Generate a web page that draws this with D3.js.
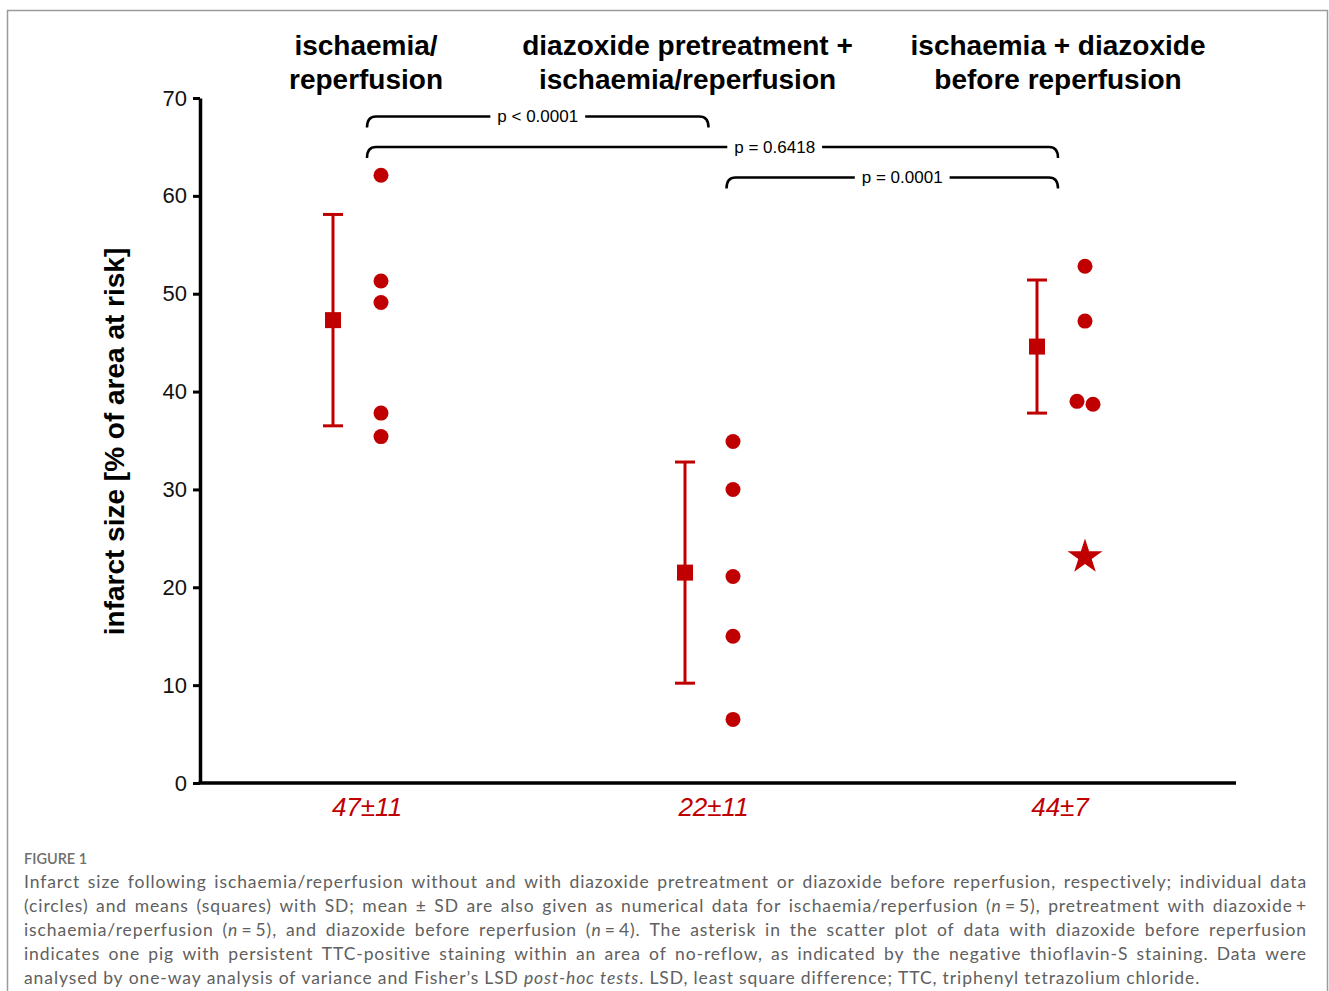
<!DOCTYPE html>
<html>
<head>
<meta charset="utf-8">
<script src="https://cdn.jsdelivr.net/npm/d3@7/dist/d3.min.js"></script>
<style>
  body { margin: 0; background: #fff; }
  svg { display: block; }
</style>
</head>
<body>
<svg width="1329" height="991"></svg>
<script>
// groups and their header text
var groups = ["ir", "dzPre", "dzBefore"];
var headerLines = [
  ["ischaemia/", "reperfusion"],
  ["diazoxide pretreatment +", "ischaemia/reperfusion"],
  ["ischaemia + diazoxide", "before reperfusion"]
];

// values (% of area at risk)
var means = [47.3, 21.5, 44.6];
var sds = [10.8, 11.3, 6.8];
var individual = [
  [62.1, 51.3, 49.1, 37.8, 35.4],
  [34.9, 30.0, 21.1, 15.0, 6.5],
  [52.8, 47.2, 39.0, 38.7]
];
var noReflow = [[], [], [23.1]]; // the star (excluded from mean)
var summaryLabels = ["47\u00b111", "22\u00b111", "44\u00b17"];
var yTicks = [0, 10, 20, 30, 40, 50, 60, 70];

// pairwise comparisons
var pairs = [[0, 1], [0, 2], [1, 2]];
var pValues = ["p < 0.0001", "p = 0.6418", "p = 0.0001"];

// "_" marks italics, \u2009 is a thin space that is not stretched
var caption = [
  "Infarct size following ischaemia/reperfusion without and with diazoxide pretreatment or diazoxide before reperfusion, respectively; individual data",
  "(circles) and means (squares) with SD; mean \u00b1 SD are also given as numerical data for ischaemia/reperfusion (_n_\u2009=\u20095), pretreatment with diazoxide\u2009+",
  "ischaemia/reperfusion (_n_\u2009=\u20095), and diazoxide before reperfusion (_n_\u2009=\u20094). The asterisk in the scatter plot of data with diazoxide before reperfusion",
  "indicates one pig with persistent TTC-positive staining within an area of no-reflow, as indicated by the negative thioflavin-S staining. Data were",
  "analysed by one-way analysis of variance and Fisher\u2019s LSD _post-hoc tests_. LSD, least square difference; TTC, triphenyl tetrazolium chloride."
];

var red = "#c00000";
var font = "Arial, 'Liberation Sans', sans-serif";

var svg = d3.select("svg");

// outer frame
svg.append("rect")
  .attr("x", 7.5).attr("y", 10.5)
  .attr("width", 1320).attr("height", 1000)
  .attr("fill", "none").attr("stroke", "#9b9b9b").attr("stroke-width", 1.5);

var y = d3.scaleLinear().domain([0, 70]).range([783, 98]);
var xMark = d3.scalePoint().domain(groups).range([358, 1062]); // marks
var xLab = d3.scalePoint().domain(groups).range([367, 1060]);  // labels

// y axis
var yAxis = svg.append("g")
  .attr("transform", "translate(200,0)")
  .call(d3.axisLeft(y).tickValues(yTicks).tickSize(7).tickSizeOuter(0).tickPadding(6));
yAxis.select(".domain").attr("stroke", "#000").attr("stroke-width", 3.5);
yAxis.selectAll(".tick line").attr("stroke", "#000").attr("stroke-width", 3);
yAxis.selectAll(".tick text")
  .attr("font-family", font).attr("font-size", 22).attr("fill", "#111");

// x axis line
svg.append("line")
  .attr("x1", 198.5).attr("x2", 1236)
  .attr("y1", y(0)).attr("y2", y(0))
  .attr("stroke", "#000").attr("stroke-width", 3.5);

// y axis title
svg.append("text")
  .attr("transform", "translate(124," + ((y(70) + y(0)) / 2 + 1) + ") rotate(-90)")
  .attr("text-anchor", "middle")
  .attr("font-family", font).attr("font-weight", "bold").attr("font-size", 28)
  .attr("fill", "#000")
  .text("infarct size [% of area at risk]");

// group headers
var headerShift = [-1, -26, -2];
groups.forEach(function(g, i) {
  var t = svg.append("text")
    .attr("text-anchor", "middle")
    .attr("font-family", font).attr("font-weight", "bold").attr("font-size", 28)
    .attr("fill", "#000");
  headerLines[i].forEach(function(line, k) {
    t.append("tspan")
      .attr("x", xLab(g) + headerShift[i])
      .attr("y", 55 + k * 34)
      .text(line);
  });
});

// mean +- SD
var meanOff = -25, dotOff = 23, capW = 10;
var eb = svg.append("g").attr("stroke", red).attr("stroke-width", 3);
groups.forEach(function(g, i) {
  var cx = xMark(g) + meanOff;
  var top = y(means[i] + sds[i]), bot = y(means[i] - sds[i]);
  eb.append("line").attr("x1", cx).attr("x2", cx).attr("y1", top).attr("y2", bot);
  eb.append("line").attr("x1", cx - capW).attr("x2", cx + capW).attr("y1", top).attr("y2", top);
  eb.append("line").attr("x1", cx - capW).attr("x2", cx + capW).attr("y1", bot).attr("y2", bot);
  svg.append("rect")
    .attr("x", cx - 8).attr("y", y(means[i]) - 8)
    .attr("width", 16).attr("height", 16)
    .attr("fill", red);
});

// individual points, spread sideways when they collide
var r = 7.5;
groups.forEach(function(g, i) {
  var vals = individual[i].slice().sort(function(a, b) { return b - a; });
  var offs = vals.map(function() { return 0; });
  for (var k = 1; k < vals.length; k++) {
    if (Math.abs(y(vals[k]) - y(vals[k - 1])) < 2 * r) {
      offs[k - 1] = -8;
      offs[k] = 8;
    }
  }
  svg.selectAll(null)
    .data(vals)
    .enter().append("circle")
    .attr("cx", function(d, k) { return xMark(g) + dotOff + offs[k]; })
    .attr("cy", function(d) { return y(d); })
    .attr("r", r)
    .attr("fill", red);

  svg.selectAll(null)
    .data(noReflow[i])
    .enter().append("path")
    .attr("d", d3.symbol(d3.symbolStar, 380))
    .attr("transform", function(d) { return "translate(" + (xMark(g) + dotOff) + "," + y(d) + ")"; })
    .attr("fill", red);
});

// summary labels under the axis
svg.selectAll(null)
  .data(groups)
  .enter().append("text")
  .attr("x", function(d) { return xLab(d); })
  .attr("y", 816)
  .attr("text-anchor", "middle")
  .attr("font-family", font).attr("font-style", "italic").attr("font-size", 26)
  .attr("fill", red)
  .text(function(d, i) { return summaryLabels[i]; });

// significance brackets
function tip(i, side) {
  // middle group has two brackets meeting, keep them apart
  if (i === 1) return xLab(groups[i]) + (side === "from" ? 13 : -5);
  return xLab(groups[i]) - (side === "to" ? 2 : 0);
}
var labelFrac = [0.5, 0.59, 0.53];
var br = svg.append("g");
pairs.forEach(function(p, k) {
  var x1 = tip(p[0], "from"), x2 = tip(p[1], "to");
  var yy = 116.5 + k * 30.5, h = 11, rr = 9;
  br.append("path")
    .attr("d", "M" + x1 + "," + (yy + h) + " Q" + x1 + "," + yy + " " + (x1 + rr) + "," + yy +
               " L" + (x2 - rr) + "," + yy + " Q" + x2 + "," + yy + " " + x2 + "," + (yy + h))
    .attr("fill", "none").attr("stroke", "#000").attr("stroke-width", 2.5);
  var lx = x1 + (x2 - x1) * labelFrac[k];
  var t = br.append("text")
    .attr("x", lx).attr("y", yy + 5.5)
    .attr("text-anchor", "middle")
    .attr("font-family", font).attr("font-size", 17).attr("fill", "#000")
    .text(pValues[k]);
  var bb = t.node().getBBox();
  br.insert("rect", function() { return t.node(); })
    .attr("x", bb.x - 7).attr("y", yy - 3)
    .attr("width", bb.width + 14).attr("height", 6)
    .attr("fill", "#fff");
});

// caption
var capFont = "Lato, 'Open Sans', sans-serif";
svg.append("text")
  .attr("x", 24).attr("y", 864)
  .attr("font-family", capFont).attr("font-size", 14.5).attr("font-weight", 600)
  .attr("fill", "#6f6f6f")
  .text("FIGURE 1");

var capSize = 17.5;
var capLeft = 24, capRight = 1307, lastLineEnd = 1209;

function parseWords(line) {
  // "_" toggles italic; returns words as arrays of pieces
  var words = [], cur = [], piece = "", italic = false;
  function flushPiece() {
    if (piece) cur.push({ t: piece, it: italic });
    piece = "";
  }
  for (var c of line) {
    if (c === "_") { flushPiece(); italic = !italic; }
    else if (c === " ") { flushPiece(); if (cur.length) words.push(cur); cur = []; }
    else piece += c;
  }
  flushPiece();
  if (cur.length) words.push(cur);
  return words;
}

var capG = svg.append("g")
  .attr("font-family", capFont).attr("font-size", capSize).attr("fill", "#606060");

// the caption face is a bit wider than Lato: pick letter spacing so the
// unjustified last line ends where it does in the figure
var lastPlain = caption[caption.length - 1].replace(/_/g, "");
var probe = capG.append("text").text(lastPlain);
var natural = probe.node().getComputedTextLength();
probe.remove();
var ls = Math.max(0, (lastLineEnd - capLeft - natural) / lastPlain.length);
capG.attr("letter-spacing", ls);

caption.forEach(function(line, li) {
  var baseline = 888 + li * 24;
  var words = parseWords(line);
  var nodes = words.map(function(w) {
    var t = capG.append("text").attr("y", baseline);
    w.forEach(function(pc) {
      t.append("tspan").attr("font-style", pc.it ? "italic" : null).text(pc.t);
    });
    return t;
  });
  var widths = nodes.map(function(t) { return t.node().getComputedTextLength(); });
  var total = d3.sum(widths);
  var last = li === caption.length - 1;
  var space = last ? capSize * 0.24 + ls : (capRight - capLeft - total) / (words.length - 1);
  var x = capLeft;
  nodes.forEach(function(t, k) {
    t.attr("x", x);
    x += widths[k] + space;
  });
});
</script>
</body>
</html>
